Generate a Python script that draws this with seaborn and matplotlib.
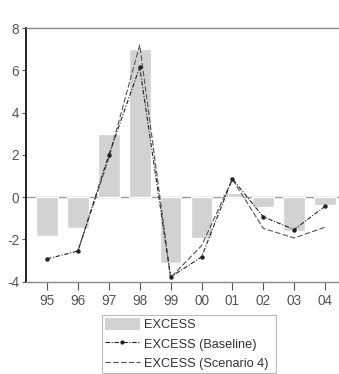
import numpy as np
import pandas as pd
import matplotlib
matplotlib.use("Agg")
import matplotlib.pyplot as plt
import seaborn as sns
from matplotlib.patches import Patch
from matplotlib.lines import Line2D

years = ["95", "96", "97", "98", "99", "00", "01", "02", "03", "04"]
excess = [-1.85, -1.45, 3.0, 7.0, -3.1, -1.95, 0.18, -0.45, -1.6, -0.38]
baseline = [-2.92, -2.55, 2.0, 6.15, -3.78, -2.83, 0.87, -0.93, -1.53, -0.43]
scenario4 = [np.nan, -2.55, 1.85, 7.2, -3.8, -2.3, 0.85, -1.48, -1.93, -1.42]
y_ticks = [-4, -2, 0, 2, 4, 6, 8]

sns.set_theme(style="white")
plt.rcParams["font.family"] = ["Liberation Sans", "DejaVu Sans"]

fig = plt.figure(figsize=(3.39, 3.74), dpi=100)
ax = fig.add_axes([26 / 339, 0.2468, 313 / 339, 0.678])

df = pd.DataFrame({"year": years, "excess": excess,
                   "baseline": baseline, "scenario4": scenario4})
df["pos"] = np.arange(len(years))

sns.barplot(data=df, x="year", y="excess", color="#d2d2d2", saturation=1,
            width=0.7, ax=ax, zorder=2)
sns.lineplot(data=df, x="pos", y="scenario4", color="#555555", lw=0.8,
             dashes=False, ax=ax, zorder=3)
ax.lines[-1].set_linestyle((0, (5, 2)))
sns.lineplot(data=df, x="pos", y="baseline", color="#222222", lw=0.8,
             marker="o", markersize=3.2, markeredgewidth=0, ax=ax, zorder=4)
ax.lines[-1].set_linestyle((0, (4, 1.5, 1, 1.5)))

ax.axhline(0, color="#9a9a9a", lw=1.0, zorder=1)

ax.set_xlim(-0.68, 9.45)
ax.set_ylim(-4, 8)
ax.set_yticks(y_ticks)
ax.set_yticklabels([str(t) for t in y_ticks])
ax.set_xlabel("")
ax.set_ylabel("")

ax.spines["right"].set_visible(False)
ax.spines["left"].set_color("#111111")
ax.spines["left"].set_linewidth(1.3)
ax.spines["top"].set_color("#8a8a8a")
ax.spines["top"].set_linewidth(1.0)
ax.spines["bottom"].set_color("#8a8a8a")
ax.spines["bottom"].set_linewidth(1.0)

ax.tick_params(axis="both", direction="out", width=0.8,
               colors="#555555", labelsize=9.8, bottom=True, left=True)
ax.tick_params(axis="y", length=3, pad=2)
ax.tick_params(axis="x", length=6, pad=3)

handles = [
    Patch(facecolor="#d2d2d2", edgecolor="none"),
    Line2D([0], [0], color="#222222", lw=0.8, linestyle=(0, (4, 1.5, 1, 1.5)),
           marker="o", markersize=3, markeredgewidth=0),
    Line2D([0], [0], color="#555555", lw=0.8, linestyle=(0, (5, 2))),
]
labels = ["EXCESS", "EXCESS (Baseline)", "EXCESS (Scenario 4)"]
leg = fig.legend(handles, labels, loc="lower left",
                 bbox_to_anchor=(102 / 339, 1 / 374, 174 / 339, 57 / 374),
                 mode="expand", frameon=True, fancybox=False, fontsize=9.2,
                 handlelength=2.7, handleheight=1.1, handletextpad=0.35,
                 labelspacing=0.45, borderpad=0.25, borderaxespad=0)
leg.get_frame().set_edgecolor("#aaaaaa")
leg.get_frame().set_linewidth(0.8)
for t in leg.get_texts():
    t.set_color("#333333")

fig.savefig("out.png", dpi=100)
